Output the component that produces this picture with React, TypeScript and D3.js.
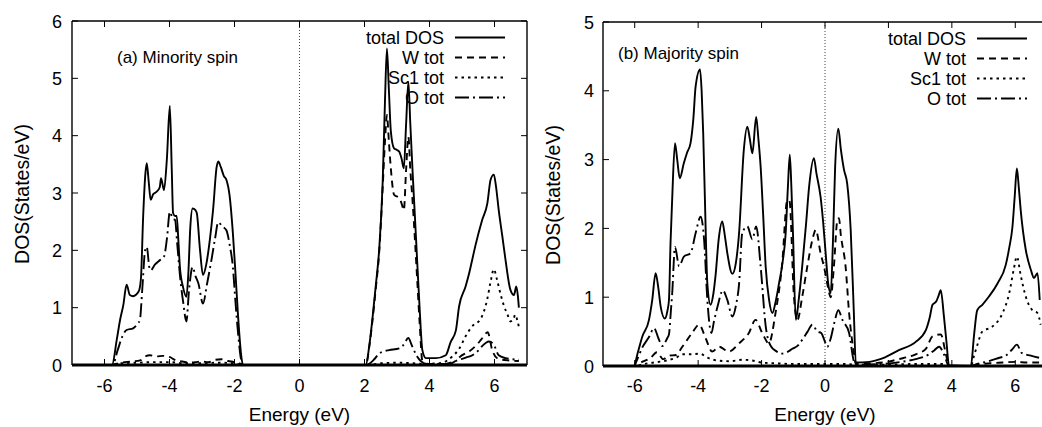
import React from "react";
import * as d3 from "d3";

type Pt = [number, number];

// ---------- Panel (a) Minority spin ----------
const aTotal: Pt[] = [[-6.9,0],[-5.77,0],[-5.62,0.45],[-5.52,0.79],[-5.42,1.05],[-5.32,1.40],[-5.22,1.22],[-5.12,1.20],[-4.95,1.28],[-4.88,1.5],[-4.81,2.6],[-4.74,3.35],[-4.70,3.52],[-4.64,3.2],[-4.58,2.88],[-4.50,2.98],[-4.40,3.02],[-4.30,3.1],[-4.26,3.26],[-4.17,3.05],[-4.08,3.6],[-3.99,4.52],[-3.93,3.4],[-3.89,2.65],[-3.83,2.6],[-3.78,2.6],[-3.72,2.1],[-3.68,1.71],[-3.58,1.35],[-3.48,1.19],[-3.42,1.6],[-3.36,2.4],[-3.29,2.73],[-3.20,2.7],[-3.16,2.65],[-3.06,2.0],[-2.97,1.57],[-2.87,1.75],[-2.76,2.18],[-2.66,2.7],[-2.55,3.45],[-2.50,3.55],[-2.42,3.45],[-2.33,3.3],[-2.25,3.23],[-2.15,2.95],[-2.05,2.30],[-1.97,1.6],[-1.89,0.85],[-1.80,0.2],[-1.74,0],[2.04,0],[2.15,0.35],[2.25,0.84],[2.35,1.4],[2.45,2.0],[2.56,3.2],[2.63,4.6],[2.69,5.52],[2.75,4.8],[2.81,4.08],[2.91,3.78],[3.00,3.75],[3.07,3.72],[3.14,3.6],[3.21,3.43],[3.28,4.2],[3.35,4.94],[3.41,4.2],[3.48,3.37],[3.55,2.6],[3.63,1.71],[3.70,0.95],[3.78,0.26],[3.89,0.12],[4.2,0.12],[4.5,0.17],[4.65,0.4],[4.81,0.6],[4.91,1.02],[5.11,1.37],[5.22,1.6],[5.32,1.85],[5.42,2.1],[5.62,2.53],[5.78,2.82],[5.88,3.23],[5.98,3.32],[6.05,3.1],[6.13,2.70],[6.24,2.25],[6.34,1.83],[6.49,1.31],[6.60,1.22],[6.67,1.37],[6.72,1.2],[6.75,1.0]];
const aW: Pt[] = [[-6.9,0],[-5.8,0],[-5.5,0.04],[-5.2,0.06],[-4.9,0.08],[-4.75,0.15],[-4.6,0.17],[-4.4,0.15],[-4.2,0.16],[-4.0,0.14],[-3.8,0.08],[-3.6,0.06],[-3.4,0.04],[-3.2,0.05],[-3.0,0.06],[-2.8,0.05],[-2.6,0.09],[-2.4,0.1],[-2.2,0.07],[-2.0,0.05],[-1.8,0.02],[-1.74,0],[2.04,0],[2.15,0.33],[2.25,0.8],[2.35,1.35],[2.45,1.95],[2.56,3.1],[2.63,3.9],[2.69,4.36],[2.75,3.9],[2.81,3.43],[2.91,2.97],[3.07,2.91],[3.14,2.82],[3.21,2.70],[3.28,3.4],[3.35,3.98],[3.41,3.4],[3.48,2.85],[3.55,2.2],[3.63,1.4],[3.70,0.7],[3.78,0.07],[3.9,0.02],[4.6,0.02],[4.8,0.07],[4.95,0.15],[5.1,0.2],[5.25,0.25],[5.45,0.35],[5.6,0.45],[5.79,0.57],[5.93,0.26],[6.08,0.12],[6.4,0.08],[6.75,0.07]];
const aSc: Pt[] = [[-6.9,0],[-5.8,0],[-5.5,0.03],[-5.0,0.04],[-4.5,0.05],[-4.0,0.05],[-3.5,0.03],[-3.0,0.03],[-2.5,0.04],[-2.0,0.03],[-1.75,0],[2.05,0],[2.5,0.03],[3.0,0.04],[3.5,0.03],[3.8,0.02],[4.3,0.03],[4.55,0.08],[4.7,0.15],[4.91,0.28],[5.11,0.5],[5.32,0.68],[5.57,0.8],[5.77,1.13],[5.88,1.45],[5.98,1.67],[6.08,1.48],[6.18,1.25],[6.28,1.05],[6.4,0.88],[6.49,0.76],[6.58,0.8],[6.64,0.88],[6.70,0.78],[6.75,0.67]];
const aO: Pt[] = [[-6.9,0],[-5.75,0],[-5.6,0.25],[-5.45,0.5],[-5.32,0.61],[-5.12,0.64],[-4.98,0.72],[-4.91,0.79],[-4.84,1.3],[-4.75,2.0],[-4.70,2.06],[-4.62,1.7],[-4.58,1.65],[-4.45,1.75],[-4.29,1.83],[-4.17,1.89],[-4.08,2.2],[-3.99,2.67],[-3.90,2.55],[-3.83,2.53],[-3.76,2.1],[-3.68,1.57],[-3.58,1.1],[-3.48,0.76],[-3.40,1.3],[-3.29,1.71],[-3.20,1.55],[-3.11,1.42],[-2.97,1.07],[-2.85,1.4],[-2.71,1.83],[-2.60,2.2],[-2.50,2.49],[-2.38,2.42],[-2.25,2.35],[-2.15,2.1],[-2.05,1.71],[-1.97,1.1],[-1.89,0.55],[-1.80,0.1],[-1.74,0],[2.05,0],[2.3,0.1],[2.45,0.20],[2.6,0.24],[2.76,0.26],[3.07,0.29],[3.2,0.35],[3.35,0.47],[3.45,0.35],[3.52,0.26],[3.62,0.15],[3.73,0.07],[3.9,0.02],[4.5,0.02],[4.7,0.05],[4.91,0.09],[5.12,0.13],[5.32,0.17],[5.5,0.25],[5.62,0.33],[5.83,0.41],[5.98,0.35],[6.13,0.17],[6.34,0.12],[6.55,0.1],[6.75,0.09]];

// ---------- Panel (b) Majority spin ----------
const bTotal: Pt[] = [[-6.9,0],[-6.03,0],[-5.9,0.2],[-5.76,0.43],[-5.55,0.67],[-5.45,0.95],[-5.34,1.35],[-5.26,1.15],[-5.18,0.86],[-5.05,0.69],[-4.97,0.8],[-4.92,0.96],[-4.87,1.8],[-4.82,2.41],[-4.73,3.24],[-4.66,3.0],[-4.58,2.73],[-4.45,2.95],[-4.35,3.1],[-4.24,3.24],[-4.15,3.6],[-4.08,4.06],[-3.94,4.31],[-3.89,4.0],[-3.84,3.38],[-3.78,2.3],[-3.71,1.20],[-3.61,0.89],[-3.52,1.05],[-3.45,1.32],[-3.35,1.85],[-3.24,2.10],[-3.16,1.9],[-3.08,1.64],[-2.92,1.34],[-2.81,1.5],[-2.71,1.93],[-2.56,3.14],[-2.45,3.48],[-2.37,3.3],[-2.29,3.09],[-2.17,3.62],[-2.10,3.3],[-2.03,2.90],[-1.95,2.2],[-1.87,1.44],[-1.76,0.95],[-1.66,0.77],[-1.55,0.95],[-1.45,1.20],[-1.34,1.5],[-1.24,1.93],[-1.17,2.6],[-1.11,3.07],[-1.06,2.6],[-1.01,1.93],[-0.92,0.67],[-0.82,1.0],[-0.72,1.44],[-0.60,2.05],[-0.50,2.61],[-0.35,3.02],[-0.27,2.8],[-0.14,2.46],[-0.06,2.1],[0.02,1.64],[0.10,1.2],[0.18,1.06],[0.25,1.8],[0.32,2.9],[0.42,3.45],[0.50,3.15],[0.60,2.85],[0.70,2.65],[0.81,1.98],[0.91,0.77],[0.97,0.05],[1.4,0.06],[1.81,0.11],[2.33,0.23],[2.86,0.35],[3.18,0.52],[3.30,0.7],[3.39,0.89],[3.51,0.94],[3.58,1.02],[3.65,1.10],[3.75,0.72],[3.83,0.35],[3.91,0.01],[4.6,0],[4.70,0.45],[4.80,0.81],[4.96,0.89],[5.17,1.01],[5.44,1.20],[5.70,1.47],[5.81,1.72],[5.91,2.02],[5.98,2.45],[6.05,2.87],[6.11,2.6],[6.17,2.27],[6.33,1.69],[6.49,1.40],[6.59,1.28],[6.70,1.35],[6.77,0.96]];
const bW: Pt[] = [[-6.9,0],[-6.0,0],[-5.8,0.05],[-5.5,0.12],[-5.3,0.2],[-5.1,0.1],[-4.92,0.15],[-4.7,0.16],[-4.5,0.28],[-4.19,0.48],[-3.97,0.60],[-3.76,0.40],[-3.56,0.21],[-3.34,0.28],[-3.03,0.21],[-2.71,0.33],[-2.40,0.48],[-2.19,0.67],[-1.98,0.48],[-1.77,0.33],[-1.56,0.77],[-1.35,1.49],[-1.19,2.41],[-1.12,2.4],[-0.98,1.01],[-0.87,0.67],[-0.72,1.0],[-0.56,1.44],[-0.40,1.83],[-0.29,1.98],[-0.14,1.64],[-0.03,1.44],[0.07,1.20],[0.18,1.0],[0.28,1.44],[0.39,2.12],[0.44,2.15],[0.50,1.9],[0.65,1.44],[0.76,0.77],[0.91,0.19],[0.97,0.03],[1.81,0.05],[2.33,0.1],[2.86,0.17],[3.18,0.25],[3.39,0.43],[3.65,0.46],[3.80,0.2],[3.91,0],[4.6,0],[4.8,0.02],[5.2,0.04],[5.6,0.05],[6.0,0.06],[6.4,0.05],[6.75,0.05]];
const bSc: Pt[] = [[-6.9,0],[-6.0,0],[-5.7,0.03],[-5.4,0.05],[-5.0,0.08],[-4.7,0.12],[-4.5,0.17],[-4.2,0.17],[-3.95,0.18],[-3.7,0.12],[-3.4,0.08],[-3.0,0.07],[-2.6,0.09],[-2.3,0.08],[-2.0,0.05],[-1.6,0.04],[-1.0,0.03],[-0.5,0.03],[0,0.03],[0.5,0.03],[0.9,0.02],[1.0,0.01],[2.0,0.02],[3.0,0.03],[3.7,0.03],[3.91,0],[4.6,0],[4.70,0.15],[4.80,0.3],[4.96,0.50],[5.27,0.57],[5.60,0.77],[5.81,1.06],[5.95,1.4],[6.05,1.59],[6.17,1.32],[6.33,1.01],[6.54,0.81],[6.70,0.77],[6.8,0.6]];
const bO: Pt[] = [[-6.9,0],[-6.03,0],[-5.9,0.12],[-5.76,0.27],[-5.55,0.42],[-5.39,0.55],[-5.25,0.4],[-5.13,0.29],[-4.98,0.4],[-4.92,0.46],[-4.86,0.8],[-4.82,1.04],[-4.73,1.73],[-4.60,1.45],[-4.45,1.59],[-4.24,1.64],[-4.08,1.93],[-3.92,2.17],[-3.81,1.82],[-3.71,0.96],[-3.58,0.48],[-3.50,0.65],[-3.39,0.86],[-3.22,1.10],[-3.08,0.96],[-2.92,0.72],[-2.80,0.9],[-2.71,1.19],[-2.61,1.93],[-2.45,2.03],[-2.29,1.84],[-2.17,2.03],[-2.03,1.45],[-1.87,0.58],[-1.71,0.29],[-1.55,0.22],[-1.35,0.18],[-1.20,0.2],[-1.03,0.25],[-0.85,0.3],[-0.72,0.38],[-0.55,0.5],[-0.40,0.60],[-0.24,0.50],[-0.12,0.48],[0.0,0.35],[0.07,0.28],[0.18,0.4],[0.29,0.62],[0.42,0.81],[0.55,0.67],[0.76,0.48],[0.91,0.07],[1.0,0.02],[1.8,0.03],[2.4,0.06],[2.86,0.1],[3.28,0.17],[3.45,0.23],[3.6,0.28],[3.75,0.17],[3.91,0],[4.6,0],[4.8,0.03],[5.17,0.07],[5.5,0.12],[5.70,0.15],[5.9,0.24],[6.05,0.31],[6.2,0.19],[6.49,0.15],[6.75,0.12]];

const xTicks = [-6, -4, -2, 0, 2, 4, 6];
const aYTicks = [0, 1, 2, 3, 4, 5, 6];
const bYTicks = [0, 1, 2, 3, 4, 5];
const legendLabels = ["total DOS", "W tot", "Sc1 tot", "O tot"];
const xLabel = "Energy (eV)";
const yLabel = "DOS(States/eV)";

const FONT = "'Liberation Sans', Arial, Helvetica, sans-serif";
const DASHES = ["none", "7,5", "2.5,4", "14,4,2,4"];

interface PanelProps {
  id: string;
  x0: number; x1: number; y0: number; y1: number; ymax: number;
  yTicks: number[];
  series: Pt[][];
  title: string; titleX: number; titleY: number;
  legRight: number; legBase: number;
  yTickX: number; yLabelX: number;
  drawRight: boolean;
}

function Panel(p: PanelProps) {
  const x = d3.scaleLinear().domain([-7, 7]).range([p.x0, p.x1]);
  const y = d3.scaleLinear().domain([0, p.ymax]).range([p.y1, p.y0]);
  const line = d3.line<Pt>().x(d => x(d[0])).y(d => y(d[1])).curve(d3.curveMonotoneX);
  const clipId = "clip-" + p.id;
  const tl = 6;
  return (
    <g>
      <defs>
        <clipPath id={clipId}>
          <rect x={p.x0} y={p.y0} width={p.x1 - p.x0} height={p.y1 - p.y0} />
        </clipPath>
      </defs>
      {/* Fermi level */}
      <line x1={x(0)} x2={x(0)} y1={p.y0} y2={p.y1} stroke="#444" strokeWidth={1} strokeDasharray="1,2" />
      <g clipPath={`url(#${clipId})`}>
        {p.series.map((s, i) => (
          <path key={i} d={line(s) || ""} fill="none" stroke="#000" strokeWidth={1.9}
            strokeDasharray={DASHES[i]} strokeLinejoin="round" />
        ))}
      </g>
      {/* frame */}
      <line x1={p.x0} x2={p.x1} y1={p.y0} y2={p.y0} stroke="#000" strokeWidth={1.4} />
      <line x1={p.x0} x2={p.x0} y1={p.y0} y2={p.y1} stroke="#000" strokeWidth={1.4} />
      {p.drawRight && <line x1={p.x1} x2={p.x1} y1={p.y0} y2={p.y1} stroke="#000" strokeWidth={1.4} />}
      <line x1={p.x0} x2={p.x1} y1={p.y1} y2={p.y1} stroke="#000" strokeWidth={3} />
      {/* x ticks */}
      {xTicks.map(t => (
        <g key={"xt" + t}>
          <line x1={x(t)} x2={x(t)} y1={p.y1} y2={p.y1 - tl} stroke="#000" strokeWidth={1} />
          <line x1={x(t)} x2={x(t)} y1={p.y0} y2={p.y0 + tl} stroke="#000" strokeWidth={1} />
          <text x={x(t)} y={392} textAnchor="middle" fontSize={18} fontFamily={FONT}>{t}</text>
        </g>
      ))}
      {/* y ticks */}
      {p.yTicks.map(t => (
        <g key={"yt" + t}>
          <line x1={p.x0} x2={p.x0 + tl} y1={y(t)} y2={y(t)} stroke="#000" strokeWidth={1} />
          {p.drawRight && <line x1={p.x1} x2={p.x1 - tl} y1={y(t)} y2={y(t)} stroke="#000" strokeWidth={1} />}
          <text x={p.yTickX} y={y(t) + 6.5} textAnchor="end" fontSize={18} fontFamily={FONT}>{t}</text>
        </g>
      ))}
      {/* axis labels */}
      <text x={x(0)} y={421} textAnchor="middle" fontSize={19} fontFamily={FONT}>{xLabel}</text>
      <text transform={`translate(${p.yLabelX},${(p.y0 + p.y1) / 2 + 1}) rotate(-90)`} textAnchor="middle"
        fontSize={19.5} fontFamily={FONT} dy="0.35em">{yLabel}</text>
      {/* title */}
      <text x={p.titleX} y={p.titleY} fontSize={17} fontFamily={FONT}>{p.title}</text>
      {/* legend */}
      {legendLabels.map((lab, i) => {
        const by = p.legBase + i * 20;
        return (
          <g key={"lg" + i}>
            <text x={p.legRight} y={by} textAnchor="end" fontSize={18} fontFamily={FONT}>{lab}</text>
            <line x1={p.legRight + 11} x2={p.legRight + 61} y1={by - 6.5} y2={by - 6.5} stroke="#000"
              strokeWidth={1.9} strokeDasharray={DASHES[i]} />
          </g>
        );
      })}
    </g>
  );
}

export default function App() {
  return (
    <svg width={1042} height={427} viewBox="0 0 1042 427"
      style={{ position: "absolute", left: 0, top: 0, background: "#fff" }}>
      <rect x={0} y={0} width={1042} height={427} fill="#fff" />
      <Panel id="a" x0={72} x1={527} y0={21} y1={365} ymax={6} yTicks={aYTicks}
        series={[aTotal, aW, aSc, aO]} title="(a) Minority spin" titleX={117} titleY={63}
        legRight={444} legBase={44} yTickX={62} yLabelX={22} drawRight={true} />
      <Panel id="b" x0={603} x1={1047} y0={22} y1={366} ymax={5} yTicks={bYTicks}
        series={[bTotal, bW, bSc, bO]} title="(b) Majority spin" titleX={618} titleY={59}
        legRight={966} legBase={45} yTickX={594} yLabelX={553} drawRight={false} />
    </svg>
  );
}
